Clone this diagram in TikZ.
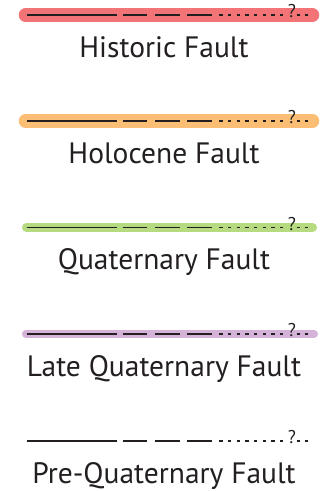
\documentclass[tikz,border=0pt]{standalone}
\usepackage{fontspec}
\setmainfont{PT Sans}
\definecolor{histred}{RGB}{242,116,118}
\definecolor{holoorange}{RGB}{252,190,116}
\definecolor{quatgreen}{RGB}{181,218,128}
\definecolor{latepurple}{RGB}{213,178,215}
\definecolor{inkgray}{RGB}{35,31,32}
\tikzset{
  faultink/.style={draw=inkgray, line width=1.5pt},
  legendlabel/.style={anchor=base, inner sep=0pt, text=inkgray, font=\fontsize{29.5}{33}\selectfont},
  qmark/.style={inner sep=0pt, text=inkgray, font=\fontsize{18.5}{20}\selectfont},
  bar/.style={line cap=round},
  pics/faultline/.style={code={
    \draw[faultink] (0,0) -- (90,0);
    \draw[faultink] (96,0) -- (120.6,0);
    \draw[faultink] (128.6,0) -- (153.3,0);
    \draw[faultink] (160.6,0) -- (185.3,0);
    \draw[faultink, dash pattern=on 3.3pt off 5.4pt] (192.5,0) -- (257,0);
    \draw[faultink] (270,0) -- (273.3,0);
    \draw[faultink] (278,0) -- (281.3,0);
    \node[qmark, anchor=base] (-q) at (265.3,2.5) {?};
  }}
}
\begin{document}
\begin{tikzpicture}[x=1pt,y=-1pt]
\useasboundingbox (0,0) rectangle (328,491);
% bars
\draw[bar, histred, line width=13.5pt] (25.5,15) -- (312.5,15);
\draw[bar, holoorange, line width=13.5pt] (25.5,121) -- (312.5,121);
\draw[bar, quatgreen, line width=9pt] (26.5,227.5) -- (312.5,227.5);
\draw[bar, latepurple, line width=8pt] (26,334) -- (314,334);
% lines
\pic (l1) at (26.7,15) {faultline};
\pic (l2) at (26.7,121) {faultline};
\pic (l3) at (26.7,227.5) {faultline};
\pic (l4) at (26.7,334) {faultline};
\pic (l5) at (26.7,441) {faultline};
% labels
\node[legendlabel] (t1) at (164,57) {Historic Fault};
\node[legendlabel] (t2) at (164,163) {Holocene Fault};
\node[legendlabel] (t3) at (164,269.5) {Quaternary Fault};
\node[legendlabel] (t4) at (164,376) {Late Quaternary Fault};
\node[legendlabel] (t5) at (164,483) {Pre-Quaternary Fault};
\end{tikzpicture}
\end{document}
